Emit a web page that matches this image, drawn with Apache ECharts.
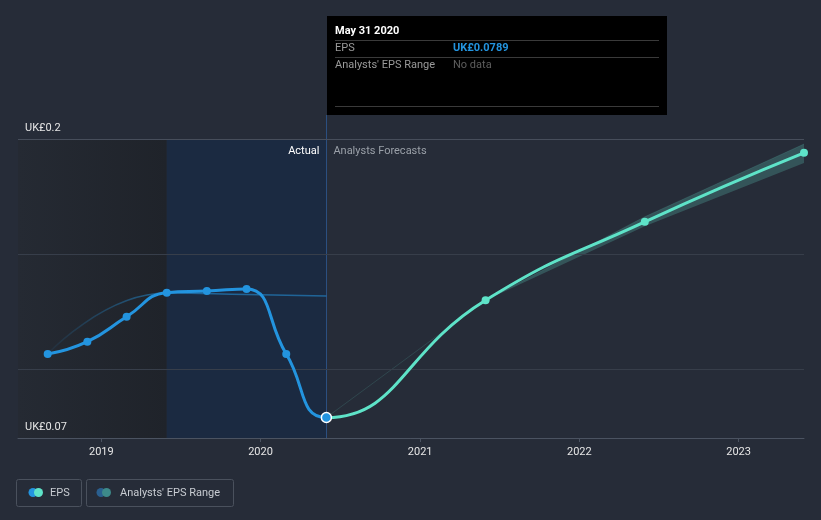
<!DOCTYPE html>
<html>
<head>
<meta charset="utf-8">
<script src="https://cdn.jsdelivr.net/npm/echarts@6/dist/echarts.min.js"></script>
<style>
html,body{margin:0;padding:0;background:#262c38;}
#chart{width:821px;height:520px;}
</style>
</head>
<body>
<div id="chart"></div>
<script>
// ---- data ----
const actualDates = ['2018-08-31','2018-11-30','2019-02-28','2019-05-31','2019-08-31','2019-11-30','2020-02-29','2020-05-31'];
const actualEPS   = [0.1065, 0.1119, 0.1227, 0.1332, 0.1339, 0.1348, 0.1065, 0.0789];
const forecastDates = ['2020-05-31','2021-05-31','2022-05-31','2023-05-31'];
const forecastEPS   = [0.0789, 0.1299, 0.1640, 0.1940];
const rangeLow  = [0.0789, 0.1299, 0.1621, 0.1896];
const rangeHigh = [0.0789, 0.1299, 0.1662, 0.1978];
const pastEstDates = ['2018-08-31','2019-05-31','2019-11-30','2020-05-31'];
const pastEstEPS   = [0.1065, 0.1330, 0.1324, 0.1317];
const yLabelValues = [0.07, 0.2];
const gridValues = [0.1, 0.15, 0.2];

const FONT = 'Roboto';
const YEAR = 365.25 * 24 * 3600 * 1000;
const BLUE = '#2394df', TEAL = '#5ee3c8';
const chart = echarts.init(document.getElementById('chart'));

const pair = (ds, vs) => ds.map((d, i) => [d, vs[i]]);
const ts = d => new Date(d + 'T00:00:00').getTime();

// one continuous EPS curve: actual points (blue) followed by forecast points (teal)
const epsData = [];
actualDates.forEach((d, i) => {
  const last = i === actualDates.length - 1;
  epsData.push(last
    ? {value: [d, actualEPS[i]], symbolSize: 10, itemStyle: {color: BLUE, borderColor: '#ffffff', borderWidth: 1.5}, z: 10}
    : {value: [d, actualEPS[i]], itemStyle: {color: BLUE}});
});
forecastDates.forEach((d, i) => {
  if (d === actualDates[actualDates.length - 1]) return;
  epsData.push({value: [d, forecastEPS[i]], itemStyle: {color: TEAL}});
});

const option = {
  backgroundColor: '#262c38',
  animation: false,
  textStyle: {fontFamily: FONT},
  grid: {left: 18, right: 17, top: 139, bottom: 82},
  xAxis: {
    type: 'time',
    min: '2018-06-24',
    max: '2023-05-31',
    splitNumber: 5,
    minInterval: YEAR * 0.99,
    z: 10,
    splitLine: {show: false},
    axisLine: {lineStyle: {color: '#4b5361', width: 1}},
    axisTick: {show: true, length: 4, lineStyle: {color: '#4b5361'}},
    axisLabel: {
      color: '#e6e6e6', fontSize: 11, fontFamily: FONT, margin: 9,
      formatter: v => String(new Date(v).getFullYear())
    }
  },
  yAxis: {
    type: 'value',
    min: 0.07,
    max: 0.2,
    z: 10,
    splitLine: {show: false},
    axisLine: {show: false},
    axisTick: {show: false},
    axisLabel: {
      customValues: yLabelValues,
      showMinLabel: true,
      showMaxLabel: true,
      hideOverlap: false,
      inside: true,
      margin: 7,
      align: 'left',
      verticalAlign: 'bottom',
      padding: [0, 0, 5, 0],
      color: '#e6e6e6', fontSize: 11, fontFamily: FONT,
      formatter: v => 'UK£' + (+(+v).toFixed(2))
    }
  },
  series: [
    {
      name: 'bg',
      type: 'line',
      data: [['2018-06-24', null]],
      symbol: 'none',
      silent: true,
      markArea: {
        silent: true,
        data: [
          [{xAxis: '2018-06-24', itemStyle: {color: {type: 'linear', x: 0, y: 0, x2: 1, y2: 0,
              colorStops: [{offset: 0, color: '#252a33'}, {offset: 1, color: '#1f232a'}]}}},
           {xAxis: '2019-05-31'}],
          [{xAxis: '2019-05-31', itemStyle: {color: '#1b2a41'},
            label: {show: true, formatter: 'Actual', position: 'insideTopRight', distance: 7,
              color: '#ffffff', fontSize: 11, fontFamily: FONT}},
           {xAxis: '2020-05-31'}],
          [{xAxis: '2020-05-31', itemStyle: {color: 'rgba(0,0,0,0)'},
            label: {show: true, formatter: 'Analysts Forecasts', position: 'insideTopLeft', distance: 7,
              color: '#9aa0a8', fontSize: 11, fontFamily: FONT}},
           {xAxis: '2023-05-31'}]
        ]
      },
      markLine: {
        silent: true,
        symbol: 'none',
        label: {show: false},
        data: gridValues.map(v => ({yAxis: v, lineStyle: {color: v === 0.2 ? '#474e5b' : '#373e4a', width: 1, type: 'solid'}}))
      }
    },
    {
      name: 'rangeLow',
      type: 'line',
      stack: 'range',
      data: pair(forecastDates, rangeLow),
      symbol: 'none',
      lineStyle: {width: 0},
      silent: true,
      z: 2
    },
    {
      name: "Analysts' EPS Range",
      type: 'line',
      stack: 'range',
      data: forecastDates.map((d, i) => [d, +(rangeHigh[i] - rangeLow[i]).toFixed(5)]),
      symbol: 'none',
      lineStyle: {width: 0.6, color: 'rgba(80,170,160,0.35)'},
      areaStyle: {color: 'rgba(72,140,135,0.6)'},
      silent: true,
      z: 2
    },
    {
      name: 'pastEstimate',
      type: 'line',
      data: pair(pastEstDates, pastEstEPS),
      smooth: 0.5,
      symbol: 'none',
      lineStyle: {width: 1.5, color: {type: 'linear', x: 0, y: 0, x2: 1, y2: 0,
        colorStops: [{offset: 0, color: 'rgba(35,148,223,0.05)'}, {offset: 0.43, color: 'rgba(35,148,223,0.55)'}, {offset: 1, color: 'rgba(35,148,223,0.55)'}]}},
      silent: true,
      z: 3
    },
    {
      name: 'EPS',
      type: 'line',
      data: epsData,
      smooth: 0.5,
      symbol: 'circle',
      symbolSize: 8,
      lineStyle: {width: 3, color: BLUE},
      z: 5
    }
  ]
};
chart.setOption(option);

const cx = chart.convertToPixel({gridIndex: 0}, [ts('2020-05-31'), 0.07]);
const vx = Math.round(cx[0]) + 0.5;
const split = vx / 821;
chart.setOption({
  series: [{}, {}, {}, {}, {
    lineStyle: {color: {type: 'linear', global: true, x: 0, y: 0, x2: 821, y2: 0,
      colorStops: [{offset: 0, color: BLUE}, {offset: split, color: BLUE}, {offset: split, color: TEAL}, {offset: 1, color: TEAL}]}}
  }],
  graphic: [
    {type: 'line', silent: true, z: 1, shape: {x1: vx, y1: 115, x2: vx, y2: 438},
      style: {stroke: '#2b4f80', lineWidth: 1}},
    // tooltip box
    {type: 'rect', silent: true, z: 50, shape: {x: 327, y: 16, width: 340, height: 99}, style: {fill: '#000000'}},
    {type: 'text', z: 51, x: 335, y: 31, style: {text: 'May 31 2020', fill: '#ffffff', font: 'bold 11px ' + FONT, verticalAlign: 'middle'}},
    {type: 'line', z: 51, shape: {x1: 335, y1: 40.5, x2: 659, y2: 40.5}, style: {stroke: '#3a3a3a', lineWidth: 1}},
    {type: 'text', z: 51, x: 335, y: 48.5, style: {text: 'EPS', fill: '#9a9a9a', font: '11px ' + FONT, verticalAlign: 'middle'}},
    {type: 'text', z: 51, x: 453, y: 48.5, style: {text: 'UK£0.0789', fill: BLUE, font: 'bold 11px ' + FONT, verticalAlign: 'middle'}},
    {type: 'line', z: 51, shape: {x1: 335, y1: 57.5, x2: 659, y2: 57.5}, style: {stroke: '#3a3a3a', lineWidth: 1}},
    {type: 'text', z: 51, x: 335, y: 65.5, style: {text: "Analysts' EPS Range", fill: '#9a9a9a', font: '11px ' + FONT, verticalAlign: 'middle'}},
    {type: 'text', z: 51, x: 453, y: 65.5, style: {text: 'No data', fill: '#5e5e5e', font: '11px ' + FONT, verticalAlign: 'middle'}},
    {type: 'line', z: 51, shape: {x1: 335, y1: 106.5, x2: 659, y2: 106.5}, style: {stroke: '#3a3a3a', lineWidth: 1}},
    // legend
    {type: 'rect', z: 50, shape: {x: 16.5, y: 479.5, width: 65, height: 27, r: 2}, style: {fill: 'none', stroke: '#4a515d', lineWidth: 1}},
    {type: 'circle', z: 51, shape: {cx: 33, cy: 492.5, r: 4.5}, style: {fill: BLUE}},
    {type: 'circle', z: 52, shape: {cx: 38.5, cy: 492.5, r: 4.5}, style: {fill: TEAL}},
    {type: 'text', z: 51, x: 50, y: 493, style: {text: 'EPS', fill: '#c8ccd2', font: '11px ' + FONT, verticalAlign: 'middle'}},
    {type: 'rect', z: 50, shape: {x: 86.5, y: 479.5, width: 147, height: 27, r: 2}, style: {fill: 'none', stroke: '#4a515d', lineWidth: 1}},
    {type: 'circle', z: 51, shape: {cx: 101, cy: 492.5, r: 4.5}, style: {fill: '#2a5f8f'}},
    {type: 'circle', z: 52, shape: {cx: 106.5, cy: 492.5, r: 4.5}, style: {fill: '#3d8a8a'}},
    {type: 'text', z: 51, x: 120, y: 493, style: {text: "Analysts' EPS Range", fill: '#c8ccd2', font: '11px ' + FONT, verticalAlign: 'middle'}}
  ]
});
</script>
</body>
</html>
